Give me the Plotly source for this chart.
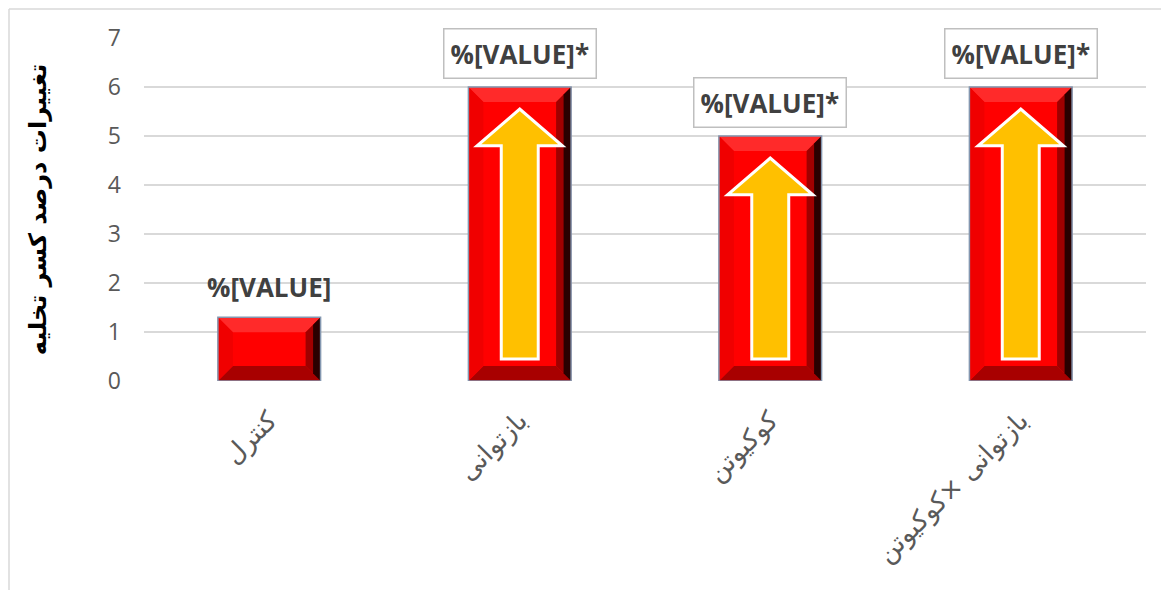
import plotly.graph_objects as go

categories = ["کنترل", "بازتوانی", "کوکیوتن", "بازتوانی ×کوکیوتن"]
values = [1.3, 6.0, 5.0, 6.0]
labels = ["%[VALUE]", "%[VALUE]*", "%[VALUE]*", "%[VALUE]*"]
significant = [False, True, True, True]
y_ticks = [0, 1, 2, 3, 4, 5, 6, 7]
y_title = "تغییرات درصد کسر تخلیه"

W, H = 1169, 590
OFF = 8  # page body margin
ML, MT = 144 - OFF, 38 - OFF
plot_w, plot_h = 1002, 343
MR = W - ML - plot_w
MB = H - MT - plot_h
YMAX = 7
BAR_W = 0.41
px_x = (3.5 + 0.5) / plot_w
px_y = YMAX / plot_h

x = list(range(len(categories)))

fig = go.Figure()
fig.add_trace(go.Bar(
    x=x, y=values, width=BAR_W,
    marker=dict(color="#FF0000", line=dict(width=0)),
    hoverinfo="skip", showlegend=False,
))

shapes = []
bx = 15 * px_x
by = 15 * px_y
for i, v in enumerate(values):
    x0, x1 = i - BAR_W / 2, i + BAR_W / 2
    bev_y = min(by, v / 4)
    ix0, ix1 = x0 + bx, x1 - bx
    iy0, iy1 = bev_y, v - bev_y
    shapes.append(dict(type="path", xref="x", yref="y", layer="above",
                       path=f"M{x0},{v} L{x1},{v} L{ix1},{iy1} L{ix0},{iy1} Z",
                       fillcolor="#FF2A2A", line=dict(width=0)))
    shapes.append(dict(type="path", xref="x", yref="y", layer="above",
                       path=f"M{x0},0 L{x1},0 L{ix1},{iy0} L{ix0},{iy0} Z",
                       fillcolor="#A80000", line=dict(width=0)))
    shapes.append(dict(type="path", xref="x", yref="y", layer="above",
                       path=f"M{x0},0 L{ix0},{iy0} L{ix0},{iy1} L{x0},{v} Z",
                       fillcolor="#F00000", line=dict(width=0)))
    mx = x1 - bx / 2
    my0 = bev_y / 2
    my1 = v - bev_y / 2
    shapes.append(dict(type="path", xref="x", yref="y", layer="above",
                       path=f"M{x1},0 L{ix1},{iy0} L{ix1},{iy1} L{x1},{v} Z",
                       fillcolor="#A00000", line=dict(width=0)))
    shapes.append(dict(type="path", xref="x", yref="y", layer="above",
                       path=f"M{x1},0 L{mx},{my0} L{mx},{my1} L{x1},{v} Z",
                       fillcolor="#2A0000", line=dict(width=0)))
    shapes.append(dict(type="rect", xref="x", yref="y", layer="above",
                       x0=x0, x1=x1, y0=0, y1=v,
                       line=dict(color="#8497B0", width=1.5)))
    if significant[i]:
        tip = v - 0.45
        base = 0.45
        head = 0.75
        hw = BAR_W * 0.83 / 2
        sw = BAR_W * 0.36 / 2
        hb = tip - head
        shapes.append(dict(type="path", xref="x", yref="y", layer="above",
                           path=(f"M{i - sw},{base} L{i + sw},{base} L{i + sw},{hb} "
                                 f"L{i + hw},{hb} L{i},{tip} L{i - hw},{hb} L{i - sw},{hb} Z"),
                           fillcolor="#FFC000", line=dict(color="white", width=3)))

# chart-area border (left and top)
x_left = (1 - ML) / plot_w
y_top = (MT + plot_h - 1) / plot_h
shapes.append(dict(type="line", xref="paper", yref="paper",
                   x0=x_left, x1=x_left, y0=y_top, y1=-0.7,
                   line=dict(color="#D9D9D9", width=1.5)))
shapes.append(dict(type="line", xref="paper", yref="paper",
                   x0=x_left, x1=1.1, y0=y_top, y1=y_top,
                   line=dict(color="#D9D9D9", width=1.5)))

label_font = dict(family="Open Sans, Liberation Sans", size=26, color="#404040")
annotations = []
for i, (v, t) in enumerate(zip(values, labels)):
    if significant[i]:
        annotations.append(dict(x=i, y=v, xref="x", yref="y", text=f"<b>{t}</b>",
                                showarrow=False, yanchor="bottom", yshift=8,
                                font=label_font,
                                bgcolor="white", bordercolor="#BFBFBF", borderwidth=1.5,
                                borderpad=6))
    else:
        annotations.append(dict(x=i, y=v, xref="x", yref="y", text=f"<b>{t}</b>",
                                showarrow=False, yanchor="bottom", yshift=10,
                                font=label_font))

fig.update_layout(
    width=W, height=H,
    margin=dict(l=ML, r=MR, t=MT, b=MB),
    paper_bgcolor="white", plot_bgcolor="white",
    shapes=shapes, annotations=annotations,
    xaxis=dict(range=[-0.5, 3.5], tickvals=x, ticktext=categories,
               tickangle=-45, showgrid=False, zeroline=False,
               showline=False, ticks="", ticklabelstandoff=18,
               tickfont=dict(family="DejaVu Sans", size=26, color="#595959")),
    yaxis=dict(range=[0, YMAX], tickvals=y_ticks, showgrid=True,
               gridcolor="#D9D9D9", gridwidth=1.5, zeroline=False,
               showline=False, ticks="", ticklabelstandoff=22,
               tickfont=dict(family="Open Sans", size=23, color="#595959"),
               title=dict(text=f"<b>{y_title}</b>", standoff=54,
                          font=dict(family="DejaVu Sans", size=24, color="#000000"))),
)

fig.write_html("out.html")
